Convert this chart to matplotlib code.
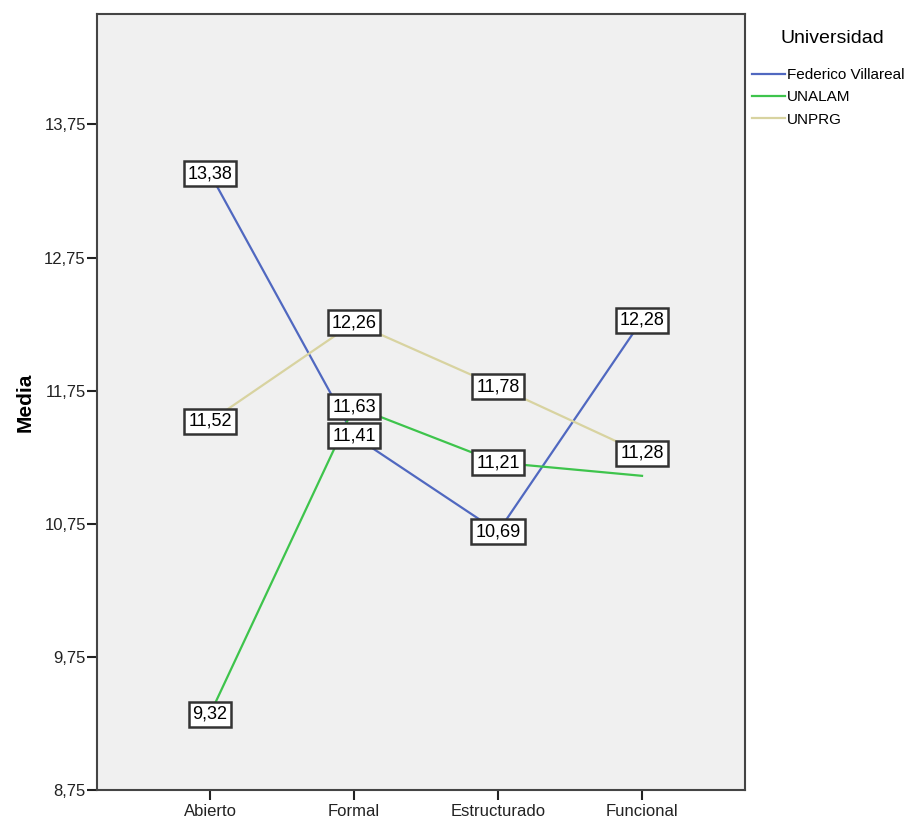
import matplotlib
matplotlib.use("Agg")
import matplotlib.pyplot as plt
from matplotlib.ticker import FuncFormatter

# Data
categories = ["Abierto", "Formal", "Estructurado", "Funcional"]
federico = [13.38, 11.41, 10.69, 12.28]
unalam = [9.32, 11.63, 11.21, 11.11]
unprg = [11.52, 12.26, 11.78, 11.28]
# UNALAM's last value has no label in the original
unalam_labels = [True, True, True, False]

plt.rcParams['font.family'] = ['Liberation Sans', 'DejaVu Sans']

fig = plt.figure(figsize=(9.21, 8.21), dpi=100)
ax = fig.add_axes([0.1053, 0.0378, 0.7036, 0.9452])
ax.set_facecolor("#f0f0f0")

x = list(range(len(categories)))
series = [
    ("Federico Villareal", federico, "#5068c0", [True] * 4),
    ("UNALAM", unalam, "#3ec44c", unalam_labels),
    ("UNPRG", unprg, "#d8d3a0", [True] * 4),
]

for name, vals, color, show in series:
    ax.plot(x, vals, color=color, lw=1.6, label=name, zorder=2)

for name, vals, color, show in series:
    for xi, v, s in zip(x, vals, show):
        if s:
            ax.text(xi, v, f"{v:.2f}".replace(".", ","), ha="center", va="center",
                    fontsize=13, zorder=5,
                    bbox=dict(boxstyle="square,pad=0.22", fc="white", ec="#333333", lw=1.8))

ax.set_xlim(-0.785, 3.715)
ax.set_ylim(8.75, 14.58)
ax.set_yticks([8.75, 9.75, 10.75, 11.75, 12.75, 13.75])
ax.yaxis.set_major_formatter(FuncFormatter(lambda v, p: f"{v:.2f}".replace(".", ",")))
ax.set_xticks(x)
ax.set_xticklabels(categories)
ax.tick_params(axis="both", labelsize=12, colors="#222222", width=1.5, length=7, direction="out")
ax.tick_params(axis="x", pad=3)
ax.tick_params(axis="y", pad=1)
for sp in ax.spines.values():
    sp.set_color("#444444")
    sp.set_linewidth(1.5)

ax.set_ylabel("Media", fontsize=15, fontweight="bold", labelpad=7)

leg = ax.legend(title="Universidad", loc="upper left", bbox_to_anchor=(0.995, 0.993),
                frameon=False, fontsize=11, title_fontsize=14,
                handlelength=2.1, handletextpad=0.15, borderaxespad=0.3,
                labelspacing=0.55)
leg.get_title().set_position((4, 0))
leg._legend_box.sep = 15

fig.savefig("out.png", dpi=100)
